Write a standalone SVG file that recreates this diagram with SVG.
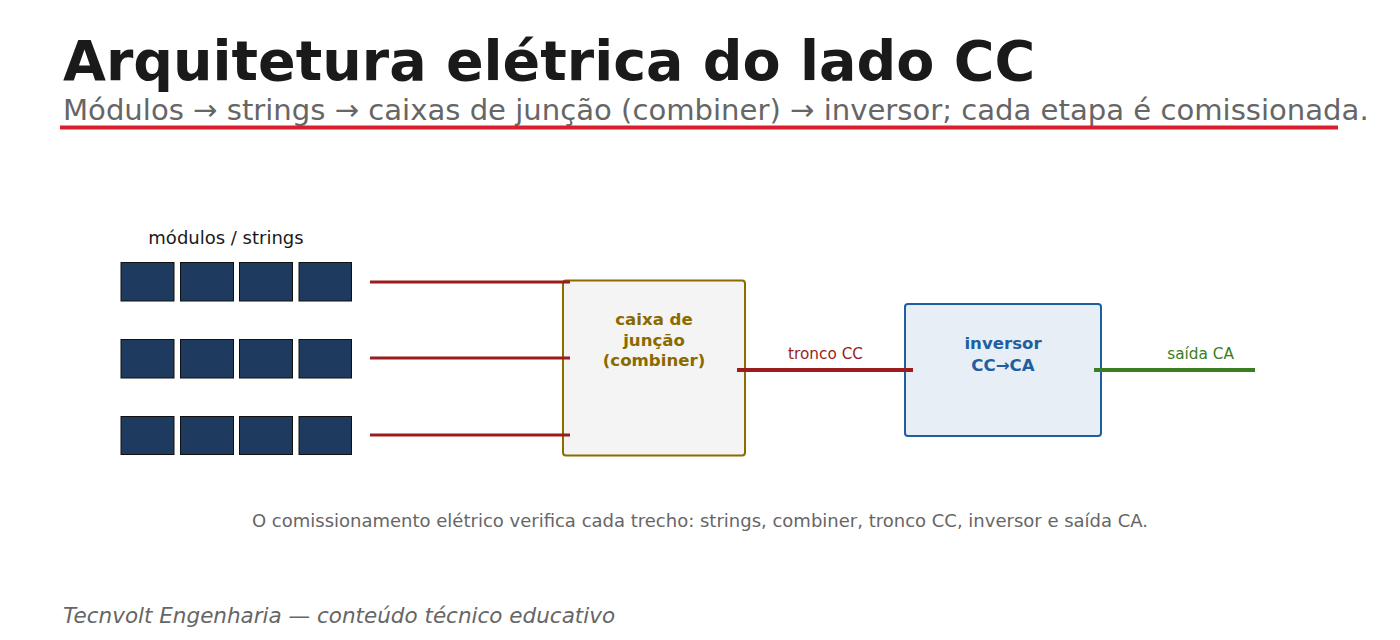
<svg xmlns="http://www.w3.org/2000/svg" width="1400" height="640" viewBox="0 0 1400 640">
<style>
text{font-family:"DejaVu Sans","Liberation Sans",sans-serif}
.title{font-size:55.5px;font-weight:bold;fill:#1a1a1a}
.sub{font-size:29.1px;fill:#666}
.mod{fill:#1f3a5f;stroke:#111;stroke-width:1}
.wire{stroke:#9b1c1c;stroke-width:3;fill:none}
.trunk{stroke:#9b1c1c;stroke-width:4;fill:none}
.ac{stroke:#3a7d22;stroke-width:4;fill:none}
.lbl{font-size:15.3px;text-anchor:middle}
.bl{font-size:16.6px;font-weight:bold;text-anchor:middle}
</style>
<rect width="1400" height="640" fill="#fff"/>
<text class="title" x="63" y="80">Arquitetura elétrica do lado CC</text>
<text class="sub" x="63" y="120">Módulos → strings → caixas de junção (combiner) → inversor; cada etapa é comissionada.</text>
<line x1="60" y1="127.5" x2="1338" y2="127.5" stroke="#d91f2f" stroke-width="4"/>
<g id="modules">
<text x="226" y="244" font-size="18" text-anchor="middle" fill="#1a1a1a">módulos / strings</text>
<rect class="mod" x="121" y="262.5" width="53" height="38.5"/>
<rect class="mod" x="180.5" y="262.5" width="53" height="38.5"/>
<rect class="mod" x="239.5" y="262.5" width="53" height="38.5"/>
<rect class="mod" x="299" y="262.5" width="52.5" height="38.5"/>
<rect class="mod" x="121" y="339.5" width="53" height="38.5"/>
<rect class="mod" x="180.5" y="339.5" width="53" height="38.5"/>
<rect class="mod" x="239.5" y="339.5" width="53" height="38.5"/>
<rect class="mod" x="299" y="339.5" width="52.5" height="38.5"/>
<rect class="mod" x="121" y="416.5" width="53" height="38"/>
<rect class="mod" x="180.5" y="416.5" width="53" height="38"/>
<rect class="mod" x="239.5" y="416.5" width="53" height="38"/>
<rect class="mod" x="299" y="416.5" width="52.5" height="38"/>
</g>
<g id="combiner">
<rect x="563" y="280.5" width="182" height="175" rx="3" fill="#f4f4f4" stroke="#8a6d00" stroke-width="2"/>
<text class="bl" fill="#8a6a00"><tspan x="654" y="325">caixa de</tspan><tspan x="654" y="345.5">junção</tspan><tspan x="654" y="366">(combiner)</tspan></text>
</g>
<g id="inverter">
<rect x="905" y="304" width="196" height="132" rx="3" fill="#e8eef6" stroke="#1f5fa0" stroke-width="2"/>
<text class="bl" fill="#1f5fa0"><tspan x="1003" y="349">inversor</tspan><tspan x="1003" y="371">CC→CA</tspan></text>
</g>
<g id="connectors">
<line class="wire" x1="370" y1="282" x2="570" y2="282"/>
<line class="wire" x1="370" y1="358" x2="570" y2="358"/>
<line class="wire" x1="370" y1="435" x2="570" y2="435"/>
<line class="trunk" x1="737" y1="370" x2="913" y2="370"/>
<text class="lbl" x="825.5" y="359" fill="#9b1c1c">tronco CC</text>
<line class="ac" x1="1094" y1="370" x2="1255" y2="370"/>
<text class="lbl" x="1200.5" y="359" fill="#3a7d22">saída CA</text>
</g>
<text x="700" y="527" font-size="18" text-anchor="middle" fill="#666">O comissionamento elétrico verifica cada trecho: strings, combiner, tronco CC, inversor e saída CA.</text>
<text x="63" y="623" font-size="21.5" font-style="italic" fill="#666">Tecnvolt Engenharia — conteúdo técnico educativo</text>
</svg>
